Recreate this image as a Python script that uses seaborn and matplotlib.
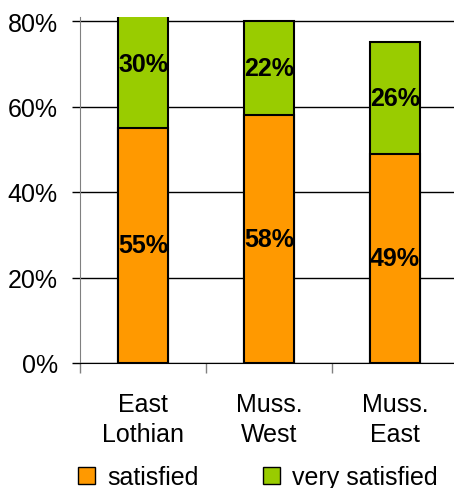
import matplotlib
matplotlib.use('Agg')
import matplotlib.pyplot as plt
import seaborn as sns
import pandas as pd
from matplotlib.patches import Patch

areas = ['East\nLothian', 'Muss.\nWest', 'Muss.\nEast']
satisfied = [55, 58, 49]
very_satisfied = [30, 22, 26]
y_ticks = [0, 20, 40, 60, 80]

orange = '#FF9900'
green = '#99CC00'

sns.set_style('white')
plt.rcParams['font.family'] = ['Liberation Sans', 'DejaVu Sans']
plt.rcParams['text.color'] = 'black'
plt.rcParams['xtick.color'] = 'black'
plt.rcParams['ytick.color'] = 'black'
plt.rcParams['xtick.labelcolor'] = 'black'
plt.rcParams['ytick.labelcolor'] = 'black'

df = pd.DataFrame({'area': areas, 'satisfied': satisfied, 'very': very_satisfied})
df['total'] = df['satisfied'] + df['very']

fig = plt.figure(figsize=(4.54, 4.89), dpi=100)
ax = fig.add_axes([80 / 454, 125 / 489, 378 / 454, 346 / 489])

# stacked: draw total in green, then satisfied in orange over it
sns.barplot(data=df, x='area', y='total', color=green, width=0.4,
            edgecolor='black', linewidth=1.5, saturation=1, ax=ax, zorder=3)
sns.barplot(data=df, x='area', y='satisfied', color=orange, width=0.4,
            edgecolor='black', linewidth=1.5, saturation=1, ax=ax, zorder=3)

for i, row in df.iterrows():
    ax.text(i, row['satisfied'] / 2, f"{row['satisfied']}%", ha='center', va='center',
            fontsize=18, fontweight='bold', color='black', zorder=5)
    ax.text(i, row['satisfied'] + row['very'] / 2, f"{row['very']}%", ha='center', va='center',
            fontsize=18, fontweight='bold', color='black', zorder=5)

ax.set_xlim(-0.5, 2.5)
ax.set_ylim(0, 80 * 346 / 342)
ax.set_yticks(y_ticks)
ax.set_yticklabels([f'{v}%' for v in y_ticks])
ax.yaxis.grid(True, color='black', linewidth=1)
ax.set_axisbelow(True)
ax.set_xlabel('')
ax.set_ylabel('')

ax.set_xticks([-0.5, 0.5, 1.5, 2.5], minor=False)
ax.set_xticklabels([])
ax.set_xticks([0, 1, 2], minor=True)
ax.set_xticklabels(areas, minor=True, fontsize=18, linespacing=1.3)
ax.tick_params(axis='x', which='major', direction='out', length=7, width=1, color='#808080', bottom=True)
ax.tick_params(axis='x', which='minor', length=0, pad=21)
ax.tick_params(axis='y', direction='out', length=6, width=1, color='black', left=True, pad=10, labelsize=18)

for s in ['top', 'right']:
    ax.spines[s].set_visible(False)
ax.spines['left'].set_color('#808080')
ax.spines['bottom'].set_color('black')

handles = [Patch(facecolor=orange, edgecolor='black', label='satisfied'),
           Patch(facecolor=green, edgecolor='black', label='very satisfied')]
fig.legend(handles=handles, loc='center', bbox_to_anchor=(258 / 454, 1 - 478 / 489), ncol=2,
           frameon=False, fontsize=18, handlelength=0.65, handleheight=0.65,
           handletextpad=0.5, columnspacing=2.6, borderaxespad=0)

fig.savefig('out.png', dpi=100)
